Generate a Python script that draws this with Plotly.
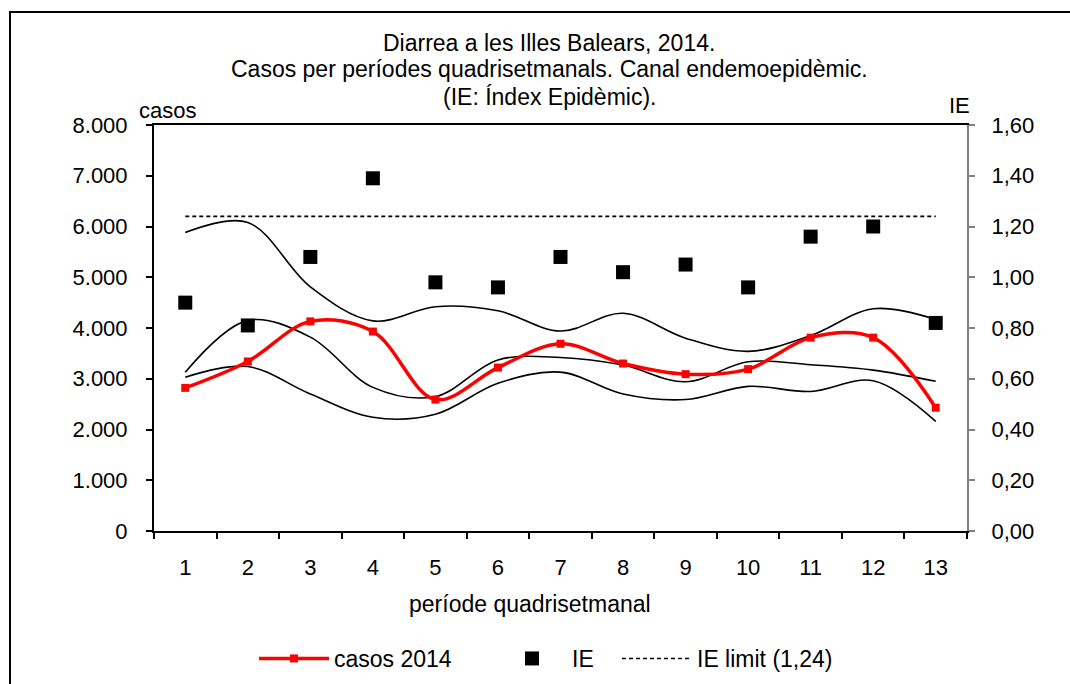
import plotly.graph_objects as go

periods = [str(i) for i in range(1, 14)]
casos_2014 = [2820, 3340, 4130, 3930, 2590, 3220, 3690, 3300, 3090, 3190, 3810, 3810, 2430]
ie = [0.90, 0.81, 1.08, 1.39, 0.98, 0.96, 1.08, 1.02, 1.05, 0.96, 1.16, 1.20, 0.82]
ie_limit = [1.24] * 13
canal_superior = [5880, 6080, 4810, 4140, 4420, 4340, 3940, 4290, 3800, 3540, 3850, 4380, 4170]
canal_mediana = [3130, 4150, 3820, 2830, 2650, 3370, 3420, 3270, 2940, 3335, 3275, 3170, 2950]
canal_inferior = [3030, 3240, 2700, 2240, 2300, 2910, 3130, 2700, 2590, 2850, 2750, 2960, 2160]

title_lines = ["Diarrea a les Illes Balears, 2014.",
               "Casos per períodes quadrisetmanals. Canal endemoepidèmic.",
               "(IE: Índex Epidèmic)."]

FONT = "Liberation Sans, Arial, sans-serif"

L, R, T, B = 154, 103, 125, 153
W, H = 1070, 684
pw = W - L - R
ph = H - T - B


def px(x):
    return (x - L) / pw


def py(y):
    return (H - B - y) / ph


fig = go.Figure()

for name, vals in [("superior", canal_superior), ("mediana", canal_mediana), ("inferior", canal_inferior)]:
    fig.add_trace(go.Scatter(x=periods, y=vals, mode="lines", name=name,
                             line=dict(color="black", width=1.6, shape="spline", smoothing=1.0),
                             showlegend=False, hoverinfo="skip"))

fig.add_trace(go.Scatter(x=periods, y=casos_2014, mode="lines+markers", name="casos 2014",
                         line=dict(color="#ff0000", width=3.5, shape="spline", smoothing=1.0),
                         marker=dict(symbol="square", size=8, color="#ff0000"),
                         legend="legend"))

fig.add_trace(go.Scatter(x=periods, y=ie, mode="markers", name="IE", yaxis="y2",
                         marker=dict(symbol="square", size=14, color="black"),
                         legend="legend2"))

fig.add_trace(go.Scatter(x=periods, y=ie_limit, mode="lines", name="IE limit (1,24)", yaxis="y2",
                         line=dict(color="black", width=1.6, dash="4px,3px"),
                         legend="legend3"))

leg_common = dict(orientation="h", xref="container", yref="container",
                  yanchor="middle", y=1 - 658.5 / H, xanchor="left",
                  font=dict(size=23), bgcolor="rgba(0,0,0,0)", itemwidth=70)

fig.update_layout(
    width=W, height=H,
    margin=dict(l=L, r=R, t=T, b=B),
    paper_bgcolor="white", plot_bgcolor="white",
    separators=",.",
    font=dict(family=FONT, size=22, color="black"),
    xaxis=dict(type="category", range=[-0.5, 12.5], tickson="boundaries", ticks="outside",
               ticklen=6, tickwidth=1.5, tickcolor="black", showline=True, linecolor="black",
               linewidth=2, mirror=True, showgrid=False, zeroline=False,
               tickfont=dict(size=22), ticklabelstandoff=16),
    yaxis=dict(range=[0, 8000], dtick=1000, tickformat=",.0f", ticks="outside",
               ticklen=6, tickwidth=1.5, tickcolor="black", showline=True,
               linecolor="black", linewidth=2, showgrid=False, zeroline=False,
               tickfont=dict(size=22), ticklabelstandoff=14),
    yaxis2=dict(range=[0, 1.6], dtick=0.2, tickformat=".2f", overlaying="y", side="right",
                ticks="outside", ticklen=6, tickwidth=1.5, tickcolor="#808080",
                showline=True, linecolor="#808080", linewidth=2, showgrid=False,
                zeroline=False, tickfont=dict(size=22), ticklabelstandoff=12),
    legend=dict(leg_common, x=254 / W),
    legend2=dict(leg_common, x=492 / W),
    legend3=dict(leg_common, x=617 / W),
    showlegend=True,
)

for line_text, yc in zip(title_lines, [43, 69.5, 96.5]):
    fig.add_annotation(text=line_text, xref="paper", yref="paper", x=px(549), y=py(yc),
                       xanchor="center", yanchor="middle", showarrow=False,
                       font=dict(size=23))

fig.add_annotation(text="casos", xref="paper", yref="paper", x=px(167), y=py(110),
                   xanchor="center", yanchor="middle", showarrow=False, font=dict(size=22))
fig.add_annotation(text="IE", xref="paper", yref="paper", x=px(959), y=py(106),
                   xanchor="center", yanchor="middle", showarrow=False, font=dict(size=22))
fig.add_annotation(text="període quadrisetmanal", xref="paper", yref="paper", x=px(530), y=py(604),
                   xanchor="center", yanchor="middle", showarrow=False, font=dict(size=23))

fig.add_shape(type="rect", xref="paper", yref="paper",
              x0=px(10), y0=py(12), x1=px(1090), y1=py(720),
              line=dict(color="black", width=2), fillcolor="rgba(0,0,0,0)", layer="above")

fig.write_html("out.html", config={"displayModeBar": False},
               post_script="document.body.style.margin='0';document.body.style.overflow='hidden';")
